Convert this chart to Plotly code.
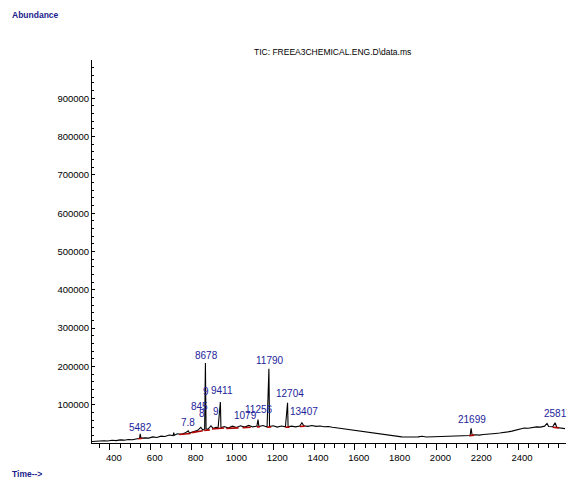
import plotly.graph_objects as go

# ---- chromatogram trace (time in min, abundance) ----
time = [3.1, 3.3, 3.5, 3.7, 3.9, 4.1, 4.3, 4.5, 4.7, 4.9, 5.1, 5.3, 5.45, 5.482, 5.52,
        5.7, 5.9, 6.1, 6.3, 6.5, 6.7, 6.9, 7.1, 7.123, 7.16, 7.3, 7.5, 7.7, 7.834, 7.9,
        8.1, 8.3, 8.455, 8.55, 8.64, 8.678, 8.71, 8.8, 8.95, 9.05, 9.2, 9.3, 9.411, 9.44,
        9.6, 9.8, 10.0, 10.2, 10.4, 10.6, 10.8, 11.0, 11.2, 11.256, 11.3, 11.5, 11.7,
        11.79, 11.82, 12.0, 12.2, 12.4, 12.6, 12.704, 12.73, 12.9, 13.1, 13.3, 13.407,
        13.5, 13.7, 13.9, 14.1, 14.3, 14.5, 14.7, 14.9, 15.1, 15.3, 15.5, 15.7, 15.9,
        16.1, 16.3, 16.5, 16.7, 16.9, 17.1, 17.3, 17.5, 17.7, 17.9, 18.1, 18.3, 18.5,
        18.7, 18.9, 19.1, 19.3, 19.5, 19.7, 19.9, 20.1, 20.3, 20.5, 20.7, 20.9, 21.1,
        21.3, 21.5, 21.65, 21.699, 21.75, 21.9, 22.1, 22.3, 22.5, 22.7, 22.9, 23.1,
        23.3, 23.5, 23.7, 23.9, 24.1, 24.3, 24.5, 24.7, 24.9, 25.1, 25.3, 25.42, 25.5,
        25.7, 25.817, 25.9, 26.1, 26.3]
abundance = [4000, 5200, 4600, 6000, 5400, 7000, 6300, 8200, 7400, 9300, 8600, 11000, 12000, 24000, 12500,
             13500, 12800, 16000, 14500, 18000, 17000, 21000, 19500, 27000, 20500, 24000, 22500, 26500, 32000, 26000,
             29000, 33000, 41000, 34000, 36000, 209000, 37000, 35500, 45000, 38000, 41000, 39500, 107000, 40000,
             43000, 39000, 44000, 40500, 45000, 41500, 46000, 42000, 44000, 61000, 43000, 45500, 42000,
             194000, 43000, 45000, 41500, 44500, 42000, 105000, 42500, 44000, 42000, 44500, 53000,
             45000, 43500, 45500, 43500, 44500, 42500, 43000, 41000, 39500, 37000, 35500, 34000, 32500,
             31000, 29500, 28000, 26500, 25000, 23500, 22000, 20500, 19500, 18000, 17000, 16000, 15500,
             15000, 15500, 16000, 17500, 15800, 16200, 16500, 16800, 17000, 17500, 17800, 18000, 18500,
             19500, 19000, 19500, 38000, 20000, 21500, 20500, 22000, 22500, 24000, 25000, 26000,
             28500, 29000, 31000, 33000, 36000, 39000, 38500, 40500, 42000, 41500, 44000, 51000, 43000,
             42500, 53000, 40500, 38500, 37500]

# ---- integration baselines (red) ----
base_start_t = [5.38, 7.40, 8.00, 8.62, 9.00, 9.70, 10.50, 11.20, 11.70, 12.60, 13.30, 21.60, 25.70]
base_start_v = [11000, 22000, 27000, 33000, 36500, 38000, 40000, 42000, 41000, 41000, 43000, 19000, 41000]
base_end_t = [5.60, 7.95, 8.55, 8.90, 9.60, 10.30, 10.90, 11.35, 11.90, 12.80, 13.55, 21.85, 26.00]
base_end_v = [12500, 25000, 32000, 34000, 39000, 39500, 41000, 42500, 42000, 41500, 44000, 20500, 39500]

# ---- peak labels ----
label_text = ["5482", "7.8", "845", "8", "8678", "9", "9411", "9", "1079", "11256", "11790",
              "12704", "13407", "21699", "25817"]
label_t = [5.48, 7.83, 8.41, 8.51, 8.71, 8.70, 9.49, 9.20, 10.63, 11.32, 11.85,
           12.80, 13.53, 21.75, 25.95]
label_v = [24000, 37500, 79000, 61000, 211000, 118000, 121000, 66000, 56000, 71000, 199000,
           111000, 66000, 45000, 60000]

ytick_vals = [100000, 200000, 300000, 400000, 500000, 600000, 700000, 800000, 900000]
ytick_text = ["100000", "200000", "300000", "400000", "500000", "600000", "700000", "800000", "900000"]
xtick_vals = [4, 6, 8, 10, 12, 14, 16, 18, 20, 22, 24]
xtick_text = ["400", "600", "800", "1000", "1200", "1400", "1600", "1800", "2000", "2200", "2400"]

FONT = "Liberation Sans, Arial, sans-serif"
BLUE = "#23239a"

fig = go.Figure()
fig.add_trace(go.Scatter(x=time, y=abundance, mode="lines",
                         line=dict(color="black", width=1.1), hoverinfo="skip"))

bx, by = [], []
for s_t, s_v, e_t, e_v in zip(base_start_t, base_start_v, base_end_t, base_end_v):
    bx += [s_t, e_t, None]
    by += [s_v, e_v, None]
fig.add_trace(go.Scatter(x=bx, y=by, mode="lines",
                         line=dict(color="#b00000", width=1.6), hoverinfo="skip"))

for txt, t, v in zip(label_text, label_t, label_v):
    fig.add_annotation(x=t, y=v, text=txt, showarrow=False, xanchor="center", yanchor="bottom",
                       font=dict(family=FONT, size=10, color=BLUE), borderpad=0)

fig.add_annotation(xref="paper", yref="paper", x=0.508, y=1.0, yshift=8,
                   text="TIC: FREEA3CHEMICAL.ENG.D\\data.ms", showarrow=False,
                   xanchor="center", yanchor="middle",
                   font=dict(family=FONT, size=8.5, color="black"))
fig.add_annotation(xref="paper", yref="paper", x=-0.173, y=1.0, yshift=45,
                   text="<b>Abundance</b>", showarrow=False, xanchor="left", yanchor="middle",
                   font=dict(family=FONT, size=8.5, color="#1c1c8c"))
fig.add_annotation(xref="paper", yref="paper", x=-0.173, y=0.0, yshift=-31,
                   text="<b>Time--></b>", showarrow=False, xanchor="left", yanchor="middle",
                   font=dict(family=FONT, size=8.5, color="#1c1c8c"))

fig.update_layout(
    width=567, height=480,
    margin=dict(l=92, r=1, t=60, b=37),
    paper_bgcolor="white", plot_bgcolor="white",
    showlegend=False,
)
fig.update_xaxes(range=[3.12, 26.35], showgrid=False, zeroline=False, automargin=False,
                 showline=True, linecolor="black", linewidth=1,
                 ticks="outside", ticklen=6, tickcolor="black", tickwidth=1,
                 tickvals=xtick_vals, ticktext=xtick_text, ticklabelshift=4,
                 tickfont=dict(family=FONT, size=9.5, color="black"),
                 minor=dict(ticks="outside", ticklen=4, dtick=0.5, tick0=0, tickcolor="black", showgrid=False))
fig.update_yaxes(range=[0, 1000000], showgrid=False, zeroline=False, automargin=False,
                 showline=True, linecolor="black", linewidth=1,
                 ticks="inside", ticklen=3, tickcolor="black",
                 tickvals=ytick_vals, ticktext=ytick_text, ticklabelstandoff=0,
                 tickfont=dict(family=FONT, size=9.5, color="black"),
                 minor=dict(ticks="inside", ticklen=2, dtick=20000, tick0=0, tickcolor="black", showgrid=False))

# remove the page's default 8px body margin so the 567x480 figure fills the window exactly
fig.write_html("out.html", config={"displayModeBar": False},
               post_script="document.body.style.margin='0px';document.body.style.overflow='hidden';")
